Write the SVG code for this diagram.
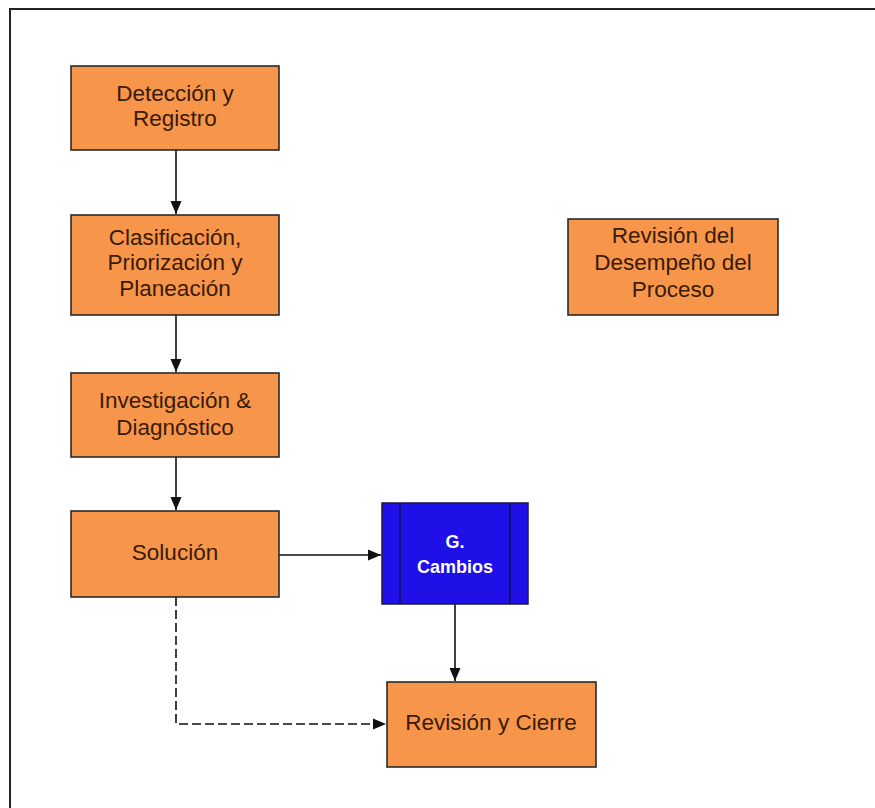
<svg xmlns="http://www.w3.org/2000/svg" width="875" height="808" viewBox="0 0 875 808">
<style>
.box{fill:#F7964A;stroke:#2a2a2a;stroke-width:1.6}
.t{font-family:"Liberation Sans",Arial,sans-serif;font-size:22.5px;fill:#3a1a05;text-anchor:middle}
.tw{font-family:"Liberation Sans",Arial,sans-serif;font-size:18px;font-weight:bold;fill:#ffffff;text-anchor:middle}
.c{stroke:#111;stroke-width:1.6;fill:none}
.d{stroke-dasharray:9 4}
</style>
<defs>
<marker id="ah" markerWidth="14" markerHeight="14" refX="13" refY="6.5" orient="auto" markerUnits="userSpaceOnUse">
<path d="M0,1 L13,6.5 L0,12 Z" fill="#111"/>
</marker>
</defs>
<rect x="0" y="0" width="875" height="808" fill="#ffffff"/>
<rect x="10" y="9" width="890" height="830" fill="none" stroke="#222" stroke-width="2"/>
<g id="connectors">
<line class="c" x1="176" y1="150" x2="176" y2="214" marker-end="url(#ah)"/>
<line class="c" x1="176" y1="315" x2="176" y2="372" marker-end="url(#ah)"/>
<line class="c" x1="176" y1="457" x2="176" y2="510" marker-end="url(#ah)"/>
<line class="c" x1="279" y1="555" x2="381" y2="555" marker-end="url(#ah)"/>
<line class="c" x1="455" y1="604" x2="455" y2="681" marker-end="url(#ah)"/>
<polyline class="c d" points="176,597 176,724 386,724" marker-end="url(#ah)"/>
</g>
<g id="deteccion">
<rect class="box" x="71" y="66" width="208" height="84"/>
<text class="t" x="175" y="101">Detección y</text>
<text class="t" x="175" y="126">Registro</text>
</g>
<g id="clasificacion">
<rect class="box" x="71" y="215" width="208" height="100"/>
<text class="t" x="175" y="245">Clasificación,</text>
<text class="t" x="175" y="270">Priorización y</text>
<text class="t" x="175" y="296">Planeación</text>
</g>
<g id="investigacion">
<rect class="box" x="71" y="373" width="208" height="84"/>
<text class="t" x="175" y="408">Investigación &amp;</text>
<text class="t" x="175" y="435">Diagnóstico</text>
</g>
<g id="solucion">
<rect class="box" x="71" y="511" width="208" height="86"/>
<text class="t" x="175" y="560">Solución</text>
</g>
<g id="cambios">
<rect x="382" y="503" width="146" height="101" fill="#1E10E6" stroke="#1a1a40" stroke-width="1.5"/>
<line x1="400" y1="503" x2="400" y2="604" stroke="#101050" stroke-width="1.5"/>
<line x1="510" y1="503" x2="510" y2="604" stroke="#101050" stroke-width="1.5"/>
<text class="tw" x="455" y="548">G.</text>
<text class="tw" x="455" y="573">Cambios</text>
</g>
<g id="revision-cierre">
<rect class="box" x="387" y="682" width="209" height="85"/>
<text class="t" x="491" y="730">Revisión y Cierre</text>
</g>
<g id="revision-desempeno">
<rect class="box" x="568" y="219" width="210" height="96"/>
<text class="t" x="673" y="243">Revisión del</text>
<text class="t" x="673" y="270">Desempeño del</text>
<text class="t" x="673" y="297">Proceso</text>
</g>
</svg>
